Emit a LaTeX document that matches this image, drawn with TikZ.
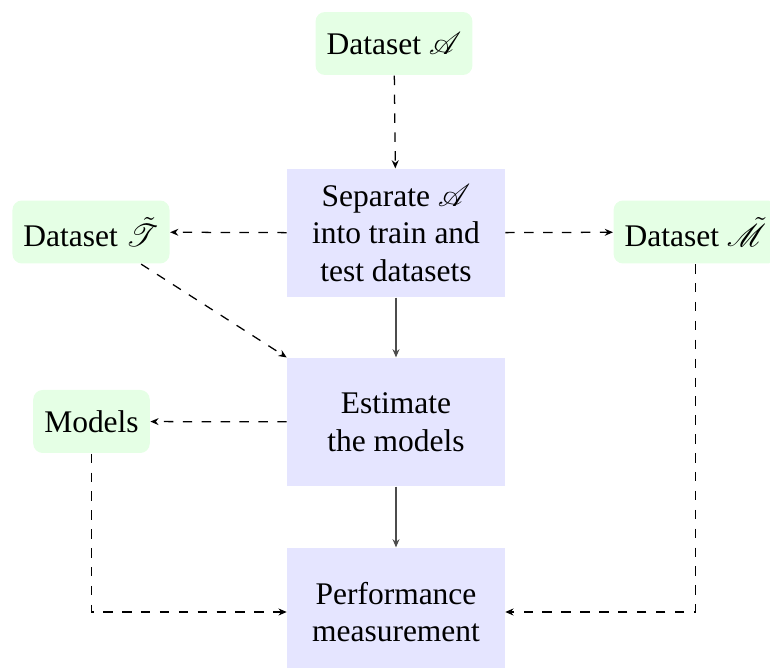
\documentclass[tikz,border=0pt]{standalone}
\usepackage{fontspec}
\setmainfont{Liberation Serif}
\usepackage{mathrsfs}
\usetikzlibrary{arrows.meta}
\begin{document}
\begin{tikzpicture}[x=0.3175pt, y=-0.3175pt,
  data/.style={fill=green!10, rounded corners=3pt, inner xsep=3.5pt,
    minimum height=20pt, align=center},
  process/.style={fill=blue!10, minimum width=69pt, minimum height=40.6pt,
    align=center},
  flow/.style={-{Stealth[length=2.6pt,width=2.2pt]}, draw=black!70, semithick},
  aux/.style={-{Stealth[length=2.6pt,width=2.2pt]}, dashed, thin}]
  \useasboundingbox (0,0) rectangle (770,668);

  % data items
  \node[data] (A) at (394,43.5) {Dataset $\mathscr{A}$};
  \node[data] (T) at (91,232) {Dataset $\tilde{\mathscr{T}}$};
  \node[data, anchor=west] (M) at (613,232) {Dataset $\tilde{\mathscr{M}}$};
  \node[data] (Mod) at (91.5,421.5) {Models};

  % processing steps
  \node[process] (S) at (396,233) {Separate $\mathscr{A}$\\into train and\\test datasets};
  \node[process] (E) at (396,422) {Estimate\\the models};
  \node[process] (P) at (396,612) {Performance\\measurement};

  % main flow
  \draw[flow] (S) -- (E);
  \draw[flow] (E) -- (P);

  % data exchanges
  \draw[aux] (A) -- (S);
  \draw[aux] (S) -- (T);
  \draw[aux] (S) -- (M);
  \draw[aux] (T) -- (E.north west);
  \draw[aux] (E) -- (Mod);
  \draw[aux] (Mod.south) |- (P.west);
  \draw[aux] (M.south) |- (P.east);
\end{tikzpicture}
\end{document}
